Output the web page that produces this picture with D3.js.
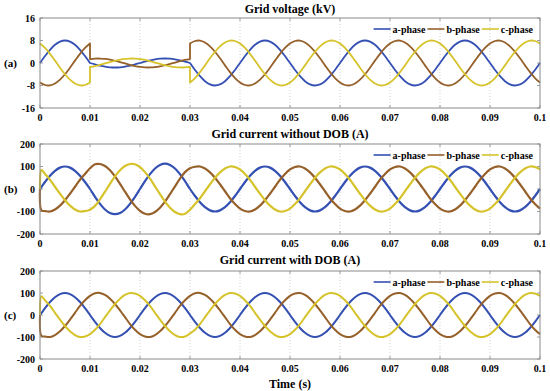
<!DOCTYPE html>
<html><head><meta charset="utf-8">
<script src="https://cdn.jsdelivr.net/npm/d3@7"></script>
<style>
body{margin:0;background:#fff;}
svg{display:block;}
text{font-family:"Liberation Serif","Times New Roman",serif;font-weight:bold;fill:#000;}
</style></head>
<body><svg id="c" width="550" height="391"></svg>
<script>
// ---------- data ----------
const seriesNames = ["a-phase","b-phase","c-phase"];
const xTicks = [0,0.01,0.02,0.03,0.04,0.05,0.06,0.07,0.08,0.09,0.1];
const xTickLabels = ["0","0.01","0.02","0.03","0.04","0.05","0.06","0.07","0.08","0.09","0.1"];
const vTicks = [-16,-8,0,8,16];
const iTicks = [-200,-100,0,100,200];
const titles = ["Grid voltage (kV)","Grid current without DOB (A)","Grid current with DOB (A)"];
const panelLabels = ["(a)","(b)","(c)"];

// sample times (ms -> s); voltage has repeated instants at the two steps (0.01 s, 0.03 s)
const vTime = [...d3.range(0,11),10,...d3.range(11,31),30,...d3.range(31,101)].map(k=>k/1000);
const cTime = [0,0.3,...d3.range(1,101)].map(k=>k/1000);

// Grid voltage (kV)
const vA = [0,2.47,4.7,6.47,7.61,8,7.61,6.47,4.7,2.47,0,
  0,-0.49,-0.94,-1.29,-1.52,-1.6,-1.52,-1.29,-0.94,-0.49,0,0.49,0.94,1.29,1.52,1.6,1.52,1.29,0.94,0.49,0,
  0,-2.47,-4.7,-6.47,-7.61,-8,-7.61,-6.47,-4.7,-2.47,0,
  2.47,4.7,6.47,7.61,8,7.61,6.47,4.7,2.47,0,
  -2.47,-4.7,-6.47,-7.61,-8,-7.61,-6.47,-4.7,-2.47,0,
  2.47,4.7,6.47,7.61,8,7.61,6.47,4.7,2.47,0,
  -2.47,-4.7,-6.47,-7.61,-8,-7.61,-6.47,-4.7,-2.47,0,
  2.47,4.7,6.47,7.61,8,7.61,6.47,4.7,2.47,0,
  -2.47,-4.7,-6.47,-7.61,-8,-7.61,-6.47,-4.7,-2.47,0];
const vB = [-6.93,-7.82,-7.96,-7.31,-5.94,-4,-1.66,0.84,3.26,5.35,6.93,
  1.39,1.56,1.59,1.46,1.19,0.8,0.33,-0.17,-0.65,-1.07,-1.39,-1.56,-1.59,-1.46,-1.19,-0.8,-0.33,0.17,0.65,1.07,1.39,
  6.93,7.82,7.96,7.31,5.94,4,1.66,-0.84,-3.26,-5.35,-6.93,
  -7.82,-7.96,-7.31,-5.94,-4,-1.66,0.84,3.26,5.35,6.93,
  7.82,7.96,7.31,5.94,4,1.66,-0.84,-3.26,-5.35,-6.93,
  -7.82,-7.96,-7.31,-5.94,-4,-1.66,0.84,3.26,5.35,6.93,
  7.82,7.96,7.31,5.94,4,1.66,-0.84,-3.26,-5.35,-6.93,
  -7.82,-7.96,-7.31,-5.94,-4,-1.66,0.84,3.26,5.35,6.93,
  7.82,7.96,7.31,5.94,4,1.66,-0.84,-3.26,-5.35,-6.93];
const vC = [6.93,5.35,3.26,0.84,-1.66,-4,-5.94,-7.31,-7.96,-7.82,-6.93,
  -1.39,-1.07,-0.65,-0.17,0.33,0.8,1.19,1.46,1.59,1.56,1.39,1.07,0.65,0.17,-0.33,-0.8,-1.19,-1.46,-1.59,-1.56,-1.39,
  -6.93,-5.35,-3.26,-0.84,1.66,4,5.94,7.31,7.96,7.82,6.93,
  5.35,3.26,0.84,-1.66,-4,-5.94,-7.31,-7.96,-7.82,-6.93,
  -5.35,-3.26,-0.84,1.66,4,5.94,7.31,7.96,7.82,6.93,
  5.35,3.26,0.84,-1.66,-4,-5.94,-7.31,-7.96,-7.82,-6.93,
  -5.35,-3.26,-0.84,1.66,4,5.94,7.31,7.96,7.82,6.93,
  5.35,3.26,0.84,-1.66,-4,-5.94,-7.31,-7.96,-7.82,-6.93,
  -5.35,-3.26,-0.84,1.66,4,5.94,7.31,7.96,7.82,6.93];

// Grid current without DOB (A)
const iA1 = [0,9,
  31,59,81,95,100,95,81,59,31,0,
  -35,-66,-91,-107,-112,-107,-91,-66,-35,0,
  35,66,91,107,113,107,91,66,35,0,
  -31,-59,-81,-95,-100,-95,-81,-59,-31,0,
  31,59,81,95,100,95,81,59,31,0,
  -31,-59,-81,-95,-100,-95,-81,-59,-31,0,
  31,59,81,95,100,95,81,59,31,0,
  -31,-59,-81,-95,-100,-95,-81,-59,-31,0,
  31,59,81,95,100,95,81,59,31,0,
  -31,-59,-81,-95,-100,-95,-81,-59,-31,0];
const iB1 = [0,-95,
  -98,-100,-91,-74,-50,-21,10,41,67,92,
  110,111,102,83,56,23,-12,-46,-75,-97,
  -110,-112,-102,-83,-56,-23,12,46,75,92,
  99,100,91,74,50,21,-10,-41,-67,-87,
  -98,-100,-91,-74,-50,-21,10,41,67,87,
  98,100,91,74,50,21,-10,-41,-67,-87,
  -98,-100,-91,-74,-50,-21,10,41,67,87,
  98,100,91,74,50,21,-10,-41,-67,-87,
  -98,-100,-91,-74,-50,-21,10,41,67,87,
  98,100,91,74,50,21,-10,-41,-67,-87];
const iC1 = [0,85,
  67,41,10,-21,-50,-74,-91,-100,-98,-92,
  -75,-46,-12,23,56,83,102,111,110,97,
  75,46,12,-23,-56,-83,-102,-112,-110,-92,
  -67,-41,-10,21,50,74,91,100,98,87,
  67,41,10,-21,-50,-74,-91,-100,-98,-87,
  -67,-41,-10,21,50,74,91,100,98,87,
  67,41,10,-21,-50,-74,-91,-100,-98,-87,
  -67,-41,-10,21,50,74,91,100,98,87,
  67,41,10,-21,-50,-74,-91,-100,-98,-87,
  -67,-41,-10,21,50,74,91,100,98,87];

// Grid current with DOB (A)
const iA2 = [0,9,
  31,59,81,95,100,95,81,59,31,0,
  -31,-59,-81,-95,-100,-95,-81,-59,-31,0,
  31,59,81,95,100,95,81,59,31,0,
  -31,-59,-81,-95,-100,-95,-81,-59,-31,0,
  31,59,81,95,100,95,81,59,31,0,
  -31,-59,-81,-95,-100,-95,-81,-59,-31,0,
  31,59,81,95,100,95,81,59,31,0,
  -31,-59,-81,-95,-100,-95,-81,-59,-31,0,
  31,59,81,95,100,95,81,59,31,0,
  -31,-59,-81,-95,-100,-95,-81,-59,-31,0];
const iB2 = [0,-95,
  -98,-100,-91,-74,-50,-21,10,41,67,87,
  99,100,91,74,50,21,-10,-41,-67,-87,
  -98,-100,-91,-74,-50,-21,10,41,67,87,
  99,100,91,74,50,21,-10,-41,-67,-87,
  -98,-100,-91,-74,-50,-21,10,41,67,87,
  98,100,91,74,50,21,-10,-41,-67,-87,
  -98,-100,-91,-74,-50,-21,10,41,67,87,
  98,100,91,74,50,21,-10,-41,-67,-87,
  -98,-100,-91,-74,-50,-21,10,41,67,87,
  98,100,91,74,50,21,-10,-41,-67,-87];
const iC2 = [0,85,
  67,41,10,-21,-50,-74,-91,-100,-98,-87,
  -67,-41,-10,21,50,74,91,100,98,87,
  67,41,10,-21,-50,-74,-91,-100,-98,-84,
  -67,-41,-10,21,50,74,91,100,98,87,
  67,41,10,-21,-50,-74,-91,-100,-98,-87,
  -67,-41,-10,21,50,74,91,100,98,87,
  67,41,10,-21,-50,-74,-91,-100,-98,-87,
  -67,-41,-10,21,50,74,91,100,98,87,
  67,41,10,-21,-50,-74,-91,-100,-98,-87,
  -67,-41,-10,21,50,74,91,100,98,87];

// ---------- drawing ----------
const colors = ["#3450b2","#96602a","#d6c32c"];
const svg = d3.select("#c");
const x = d3.scaleLinear().domain([0,0.1]).range([40,540]);

const panels = [
  {top:18, bottom:108, domain:[-16,16], ticks:vTicks, time:vTime, series:[vA,vB,vC], sw:1.8, titleY:13},
  {top:144, bottom:234, domain:[-200,200], ticks:iTicks, time:cTime, series:[iA1,iB1,iC1], sw:2.2, titleY:138},
  {top:271, bottom:359, domain:[-200,200], ticks:iTicks, time:cTime, series:[iA2,iB2,iC2], sw:2.0, titleY:264}
];

function pathFor(times, vals, y){
  const segs=[]; let cur=[];
  times.forEach((t,i)=>{
    if(i>0 && t===times[i-1]){segs.push(cur);cur=[];}
    cur.push([x(t), y(vals[i])]);
  });
  segs.push(cur);
  const line = d3.line().curve(d3.curveCatmullRom.alpha(0.5));
  return segs.map((s,i)=>{const d=line(s); return i? "L"+d.slice(1) : d;}).join("");
}

panels.forEach((p,pi)=>{
  const y = d3.scaleLinear().domain(p.domain).range([p.bottom,p.top]);
  const g = svg.append("g");
  // grid
  g.selectAll(".gx").data(xTicks.slice(1,-1)).join("line")
    .attr("x1",d=>x(d)).attr("x2",d=>x(d)).attr("y1",p.top).attr("y2",p.bottom)
    .attr("stroke","#c8c8c8").attr("stroke-width",0.8).attr("stroke-dasharray","1,2");
  // inward ticks
  const tk = 3;
  g.selectAll(".tx").data(xTicks).join("path")
    .attr("d",d=>`M${x(d)},${p.bottom}v${-tk}M${x(d)},${p.top}v${tk}`)
    .attr("stroke","#888").attr("stroke-width",0.8);
  g.selectAll(".ty").data(p.ticks).join("path")
    .attr("d",d=>`M40,${y(d)}h${tk}M540,${y(d)}h${-tk}`)
    .attr("stroke","#888").attr("stroke-width",0.8);
  // series
  p.series.forEach((vals,si)=>{
    g.append("path").attr("d",pathFor(p.time,vals,y))
      .attr("fill","none").attr("stroke",colors[si]).attr("stroke-width",p.sw)
      .attr("stroke-linejoin","round");
  });
  // frame
  g.append("rect").attr("x",40).attr("y",p.top).attr("width",500).attr("height",p.bottom-p.top)
    .attr("fill","none").attr("stroke","#8a8a8a").attr("stroke-width",1);
  // tick labels
  g.selectAll(".lx").data(xTicks).join("text")
    .attr("x",d=>x(d)).attr("y",p.bottom+13).attr("text-anchor","middle")
    .attr("font-size",10).text((d,i)=>xTickLabels[i]);
  g.selectAll(".ly").data(p.ticks).join("text")
    .attr("x",35).attr("y",d=>y(d)+3.5).attr("text-anchor","end")
    .attr("font-size",10).text(d=>d);
  // panel label
  g.append("text").attr("x",4).attr("y",y(0)+4).attr("font-size",11).text(panelLabels[pi]);
  // title
  g.append("text").attr("x",290).attr("y",p.titleY).attr("text-anchor","middle")
    .attr("font-size",12).text(titles[pi]);
  // legend (right aligned)
  const ly = p.top+11;
  let right = 533;
  for(let si=2; si>=0; si--){
    const t = g.append("text").attr("y",ly+3.5).attr("font-size",10).text(seriesNames[si]);
    const w = t.node().getComputedTextLength();
    t.attr("x",right-w);
    const lx2 = right-w-2, lx1 = lx2-17;
    g.append("line").attr("x1",lx1).attr("x2",lx2).attr("y1",ly).attr("y2",ly)
      .attr("stroke",colors[si]).attr("stroke-width",1.6);
    right = lx1-2;
  }
});

svg.append("text").attr("x",290).attr("y",388).attr("text-anchor","middle")
  .attr("font-size",12).text("Time (s)");
</script>
</body></html>
